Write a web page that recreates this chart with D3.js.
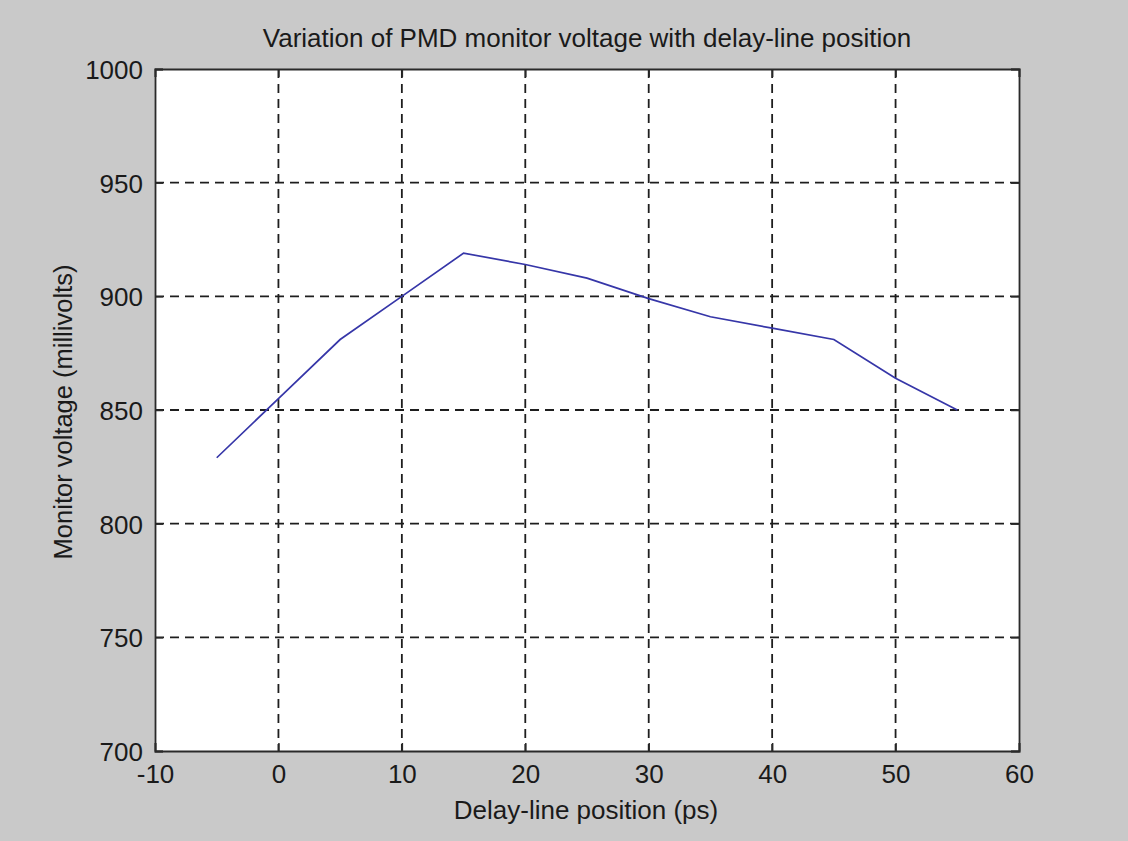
<!DOCTYPE html>
<html>
<head>
<meta charset="utf-8">
<script src="https://cdn.jsdelivr.net/npm/d3@7"></script>
<style>
  html, body { margin: 0; padding: 0; background: #c9c9c9; }
  svg { display: block; }
  text { font-family: "Liberation Sans", Arial, sans-serif; fill: #1a1a1a; }
</style>
</head>
<body>
<svg id="chart" width="1128" height="841"></svg>
<script>
// Data
const positions = [-5, 0, 5, 10, 15, 20, 25, 30, 35, 40, 45, 50, 55];
const voltages  = [829, 855, 881, 900, 919, 914, 908, 899, 891, 886, 881, 864, 850];
const xTicks = [-10, 0, 10, 20, 30, 40, 50, 60];
const yTicks = [700, 750, 800, 850, 900, 950, 1000];
const titleText = "Variation of PMD monitor voltage with delay-line position";
const xLabel = "Delay-line position (ps)";
const yLabel = "Monitor voltage (millivolts)";

const W = 1128, H = 841;
const m = { left: 155, right: 1128 - 1019, top: 69, bottom: 841 - 751 };
const iw = W - m.left - m.right, ih = H - m.top - m.bottom;
const FS = 26;

const svg = d3.select("#chart");
svg.append("rect").attr("width", W).attr("height", H).attr("fill", "#c9c9c9");

const x = d3.scaleLinear().domain([-10, 60]).range([0, iw]);
const y = d3.scaleLinear().domain([700, 1000]).range([ih, 0]);

const g = svg.append("g").attr("transform", `translate(${m.left},${m.top})`);
g.append("rect").attr("width", iw).attr("height", ih).attr("fill", "#ffffff");

// Grid
const dash = "9,6";
g.append("g").selectAll("line").data(xTicks.slice(1, -1)).join("line")
  .attr("x1", d => x(d)).attr("x2", d => x(d)).attr("y1", 0).attr("y2", ih)
  .attr("stroke", "#1e1e1e").attr("stroke-width", 1.8).attr("stroke-dasharray", dash);
g.append("g").selectAll("line").data(yTicks.slice(1, -1)).join("line")
  .attr("y1", d => y(d)).attr("y2", d => y(d)).attr("x1", 0).attr("x2", iw)
  .attr("stroke", "#1e1e1e").attr("stroke-width", 1.8).attr("stroke-dasharray", dash);

// Data line
const line = d3.line().x((d, i) => x(positions[i])).y(d => y(d));
g.append("path").datum(voltages).attr("d", line)
  .attr("fill", "none").attr("stroke", "#3636a8").attr("stroke-width", 1.7);

// Axes (ticks inside)
const tl = 8;
const fmt = d => String(d);
const xAxisB = g.append("g").attr("transform", `translate(0,${ih})`)
  .call(d3.axisBottom(x).tickValues(xTicks).tickSize(-tl).tickPadding(tl + 6).tickFormat(fmt));
const xAxisT = g.append("g")
  .call(d3.axisTop(x).tickValues(xTicks).tickSize(-tl).tickFormat(""));
const yAxisL = g.append("g")
  .call(d3.axisLeft(y).tickValues(yTicks).tickSize(-tl).tickPadding(tl + 4).tickFormat(fmt));
const yAxisR = g.append("g").attr("transform", `translate(${iw},0)`)
  .call(d3.axisRight(y).tickValues(yTicks).tickSize(-tl).tickFormat(""));

[xAxisB, xAxisT, yAxisL, yAxisR].forEach(a => {
  a.select(".domain").attr("stroke", "#2a2a2a").attr("stroke-width", 1.8);
  a.selectAll(".tick line").attr("stroke", "#2a2a2a").attr("stroke-width", 1.5);
  a.selectAll(".tick text").attr("font-size", FS).attr("fill", "#1a1a1a")
    .attr("font-family", "'Liberation Sans', Arial, sans-serif");
});
xAxisB.selectAll(".tick text").attr("dy", "0.71em");
yAxisL.selectAll(".tick text").attr("dy", "0.36em");

// Title & labels
svg.append("text").attr("x", m.left + iw / 2).attr("y", 47)
  .attr("text-anchor", "middle").attr("font-size", FS).text(titleText);
svg.append("text").attr("x", m.left + iw / 2 - 1).attr("y", 819)
  .attr("text-anchor", "middle").attr("font-size", FS).text(xLabel);
svg.append("text").attr("transform", `translate(72,${m.top + ih / 2 + 2}) rotate(-90)`)
  .attr("text-anchor", "middle").attr("font-size", 25.5).text(yLabel);
</script>
</body>
</html>
